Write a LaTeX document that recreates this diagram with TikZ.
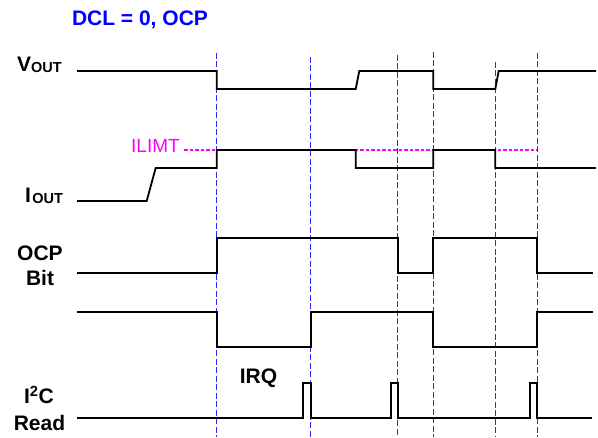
\documentclass[tikz,border=0pt]{standalone}
\usepackage{fontspec}
\setmainfont{Liberation Sans}
\definecolor{limitpink}{RGB}{255,0,255}
\definecolor{guideblue}{RGB}{40,40,255}
\begin{document}
\begin{tikzpicture}[x=1pt,y=-1pt,
  sig/.style={line width=1.8pt, line join=miter},
  guide/.style={guideblue, line width=1.2pt, dash pattern=on 6pt off 2.5pt},
  limit/.style={limitpink, line width=1.1pt, dash pattern=on 3.5pt off 2pt},
  lab/.style={font=\fontsize{21}{25}\bfseries\selectfont, inner sep=0pt, outer sep=0pt},
  sub/.style={font=\fontsize{14.5}{16}\bfseries\selectfont, inner sep=0pt, outer sep=0pt},
]
\useasboundingbox (0,0) rectangle (598,438);

% guide lines
\draw[guide] (216.7,53) -- (216.7,437);
\draw[guide] (310.7,57) -- (310.7,437);
\draw[guide] (397.7,55) -- (397.7,437);
\draw[guide] (433.3,52) -- (433.3,437);
\draw[guide] (495.3,62) -- (495.3,437);
\draw[guide] (537.3,53) -- (537.3,437);

% current limit
\draw[limit] (184,150) -- (537.3,150);

% VOUT
\draw[sig] (77,71) -- (216.7,71) -- (216.7,89) -- (355.7,89) -- (359.3,71) -- (433.3,71)
  -- (433.3,89) -- (495.3,89) -- (498.7,71) -- (596,71);
% IOUT
\draw[sig] (77,201) -- (146.7,201) -- (155.7,168) -- (216.7,168) -- (216.7,150) -- (355.7,150)
  -- (355.7,168) -- (433.3,168) -- (433.3,150) -- (495.3,150) -- (495.3,168) -- (596,168);
% OCP bit
\draw[sig] (77,272.7) -- (216.7,272.7) -- (216.7,237.7) -- (397.7,237.7) -- (397.7,272.7)
  -- (433.3,272.7) -- (433.3,237.7) -- (537.3,237.7) -- (537.3,272.7) -- (593,272.7);
% unlabeled (IRQ line)
\draw[sig] (77,311.7) -- (216.7,311.7) -- (216.7,346.7) -- (310.7,346.7) -- (310.7,311.7)
  -- (433.3,311.7) -- (433.3,346.7) -- (537.3,346.7) -- (537.3,311.7) -- (593,311.7);
% I2C read
\draw[sig] (77,418.3) -- (303.3,418.3) -- (303.3,383.3) -- (310.7,383.3) -- (310.7,418.3)
  -- (390.7,418.3) -- (390.7,383.3) -- (397.7,383.3) -- (397.7,418.3)
  -- (530,418.3) -- (530,383.3) -- (537.3,383.3) -- (537.3,418.3) -- (591.7,418.3);

% labels
\node[lab, blue, anchor=base west] (title) at (72,26) {DCL = 0, OCP};
\node[lab, anchor=base west] (vv) at (17,72) {V};
\node[sub, anchor=base west] (vsub) at ([yshift=-1pt]vv.base east) {OUT};
\node[lab, anchor=base west] (ii) at (25,202.7) {I};
\node[sub, anchor=base west] (isub) at ([xshift=1.5pt,yshift=-0.5pt]ii.base east) {OUT};
\node[lab, anchor=base] (ocp) at (40,260.7) {OCP};
\node[lab, anchor=base] (bit) at (40,285.7) {Bit};
\node[lab, anchor=base] (i2c) at (39,404) {I\textsuperscript{2}C};
\node[lab, anchor=base] (read) at (39.5,430.7) {Read};
\node[lab, anchor=base] (irq) at (258.5,383.3) {IRQ};
\node[limitpink, font=\fontsize{19}{22}\selectfont, inner sep=0pt, anchor=base west] (ilim) at (131,153) {ILIMT};
\end{tikzpicture}
\end{document}
